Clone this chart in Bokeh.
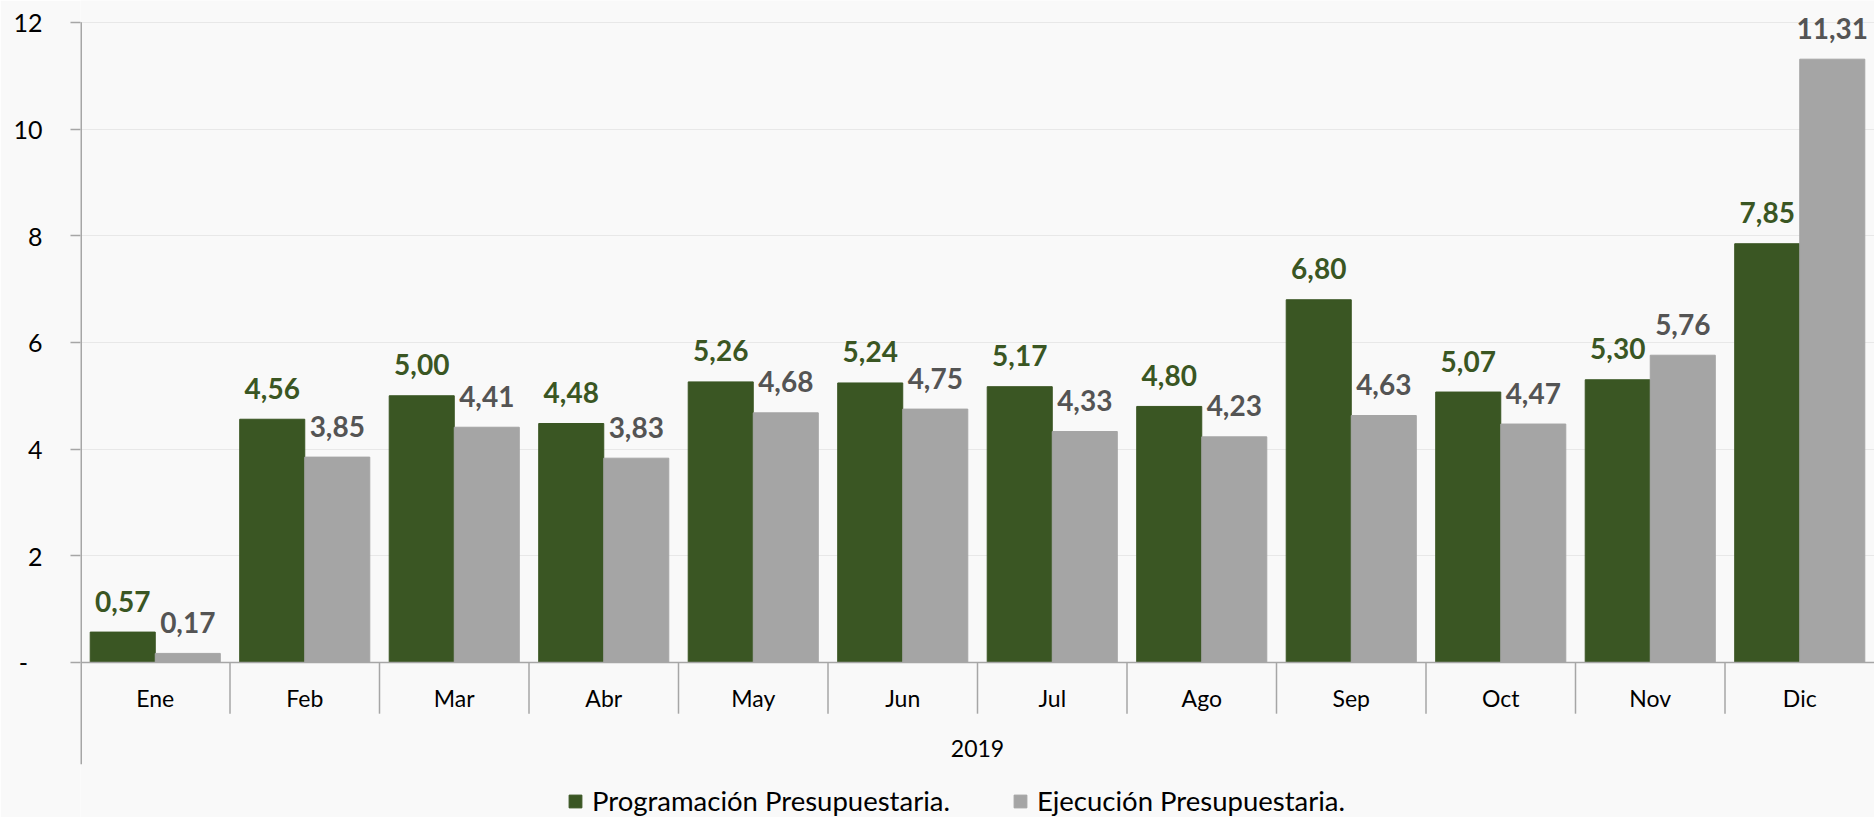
from bokeh.plotting import figure
from bokeh.models import (ColumnDataSource, FactorRange, Range1d, FixedTicker, Span,
                          Legend, LegendItem)
from bokeh.transform import dodge
from bokeh.core.properties import value
from bokeh.embed import file_html
from bokeh.resources import INLINE

months = ["Ene", "Feb", "Mar", "Abr", "May", "Jun", "Jul", "Ago", "Sep", "Oct", "Nov", "Dic"]
programacion = [0.57, 4.56, 5.00, 4.48, 5.26, 5.24, 5.17, 4.80, 6.80, 5.07, 5.30, 7.85]
ejecucion = [0.17, 3.85, 4.41, 3.83, 4.68, 4.75, 4.33, 4.23, 4.63, 4.47, 5.76, 11.31]
y_ticks = [0, 2, 4, 6, 8, 10, 12]
y_tick_labels = {0: "-\u2007", 2: "2", 4: "4", 6: "6", 8: "8", 10: "10", 12: "12"}
year_label = "2019"
series_names = ["Programación Presupuestaria.", "Ejecución Presupuestaria."]

GREEN = "#3a5623"
GRAY = "#a5a5a5"
GRAY_TXT = "#545454"
AXIS = "#a6a6a6"
BG = "#f9f9f9"
FONT = "Lato"

# vertical layout of the axis area below zero (in data units)
LAB_Y = -0.66
DIV_Y = -0.96
YEAR_Y = -1.61
AXIS_BOTTOM = -1.91
Y_MIN = -2.906
Y_MAX = 12.41

def fmt(v):
    return f"{v:.2f}".replace(".", ",")

src = ColumnDataSource(dict(
    m=months, p=programacion, e=ejecucion,
    pl=[fmt(v) for v in programacion], el=[fmt(v) for v in ejecucion],
    lab_y=[LAB_Y] * len(months),
))
div_src = ColumnDataSource(dict(m=months[1:], y0=[0.0] * (len(months) - 1),
                                y1=[DIV_Y] * (len(months) - 1)))
yax_src = ColumnDataSource(dict(m=[months[0]], y0=[AXIS_BOTTOM], y1=[y_ticks[-1]]))
year_src = ColumnDataSource(dict(m=[months[5]], y=[YEAR_Y], t=[year_label]))

p = figure(width=1874, height=817, x_range=FactorRange(*months, range_padding=0),
           y_range=Range1d(Y_MIN, Y_MAX), output_backend="svg", toolbar_location=None,
           min_border_left=80, min_border_right=0, min_border_top=0, min_border_bottom=0,
           background_fill_color=BG, border_fill_color=BG, outline_line_color=None)

p.xaxis.visible = False
p.xgrid.visible = False
p.ygrid.ticker = FixedTicker(ticks=y_ticks[1:])
p.ygrid.grid_line_color = "#e8e8e8"
p.ygrid.grid_line_width = 1

bw = 0.435
r1 = p.vbar(x=dodge("m", -bw / 2, range=p.x_range), top="p", width=bw, source=src,
            fill_color=GREEN, line_color=GREEN)
r2 = p.vbar(x=dodge("m", bw / 2, range=p.x_range), top="e", width=bw, source=src,
            fill_color=GRAY, line_color=GRAY)

p.text(x=dodge("m", -bw / 2, range=p.x_range), y="p", text="pl", source=src,
       text_align="center", text_baseline="middle", y_offset=-31,
       text_font=value(FONT), text_font_style="bold", text_font_size="28px", text_color=GREEN)
p.text(x=dodge("m", bw / 2, range=p.x_range), y="e", text="el", source=src,
       text_align="center", text_baseline="middle", y_offset=-31,
       text_font=value(FONT), text_font_style="bold", text_font_size="28px", text_color=GRAY_TXT)

# category labels, dividers, year label, vertical axis line
p.text(x="m", y="lab_y", text="m", source=src, text_align="center", text_baseline="middle",
       text_font=value(FONT), text_font_size="23px", text_color="#000000")
p.segment(x0=dodge("m", -0.5, range=p.x_range), x1=dodge("m", -0.5, range=p.x_range),
          y0="y0", y1="y1", source=div_src, line_color=AXIS, line_width=1.5)
p.segment(x0=dodge("m", -0.5, range=p.x_range), x1=dodge("m", -0.5, range=p.x_range),
          y0="y0", y1="y1", source=yax_src, line_color=AXIS, line_width=3)
p.text(x=dodge("m", 0.5, range=p.x_range), y="y", text="t", source=year_src,
       text_align="center", text_baseline="middle",
       text_font=value(FONT), text_font_size="23px", text_color="#000000")

p.add_layout(Span(location=0, dimension="width", line_color=AXIS, line_width=1.5))

ya = p.yaxis[0]
ya.ticker = FixedTicker(ticks=y_ticks)
ya.major_label_overrides = y_tick_labels
ya.axis_line_color = None
ya.major_tick_line_color = AXIS
ya.major_tick_line_width = 1.5
ya.major_tick_out = 10
ya.major_tick_in = 0
ya.minor_tick_line_color = None
ya.major_label_standoff = 28
ya.major_label_text_font = FONT
ya.major_label_text_font_size = "25px"
ya.major_label_text_color = "#000000"

legend = Legend(items=[LegendItem(label=series_names[0], renderers=[r1]),
                       LegendItem(label=series_names[1], renderers=[r2])],
                orientation="horizontal", location=(487, 0),
                background_fill_alpha=0, border_line_color=None,
                label_text_font=FONT, label_text_font_size="27.5px", label_text_color="#000000",
                glyph_width=16, glyph_height=16, label_standoff=9, spacing=62,
                padding=0, margin=0)
p.add_layout(legend)

open("out.html", "w").write(file_html(p, INLINE))
